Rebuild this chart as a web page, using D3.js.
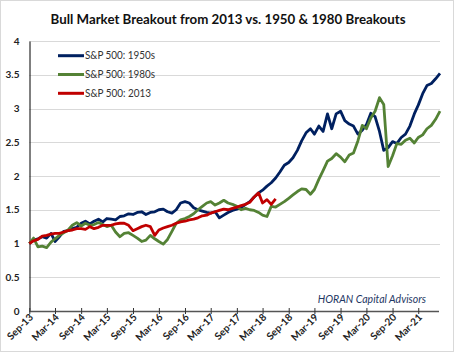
<!DOCTYPE html>
<html><head><meta charset="utf-8">
<script src="https://cdn.jsdelivr.net/npm/d3@7"></script>
<style>
html,body{margin:0;padding:0;background:#fff;}
svg{display:block;}
text{font-family:Lato,"Open Sans",sans-serif;}
</style></head>
<body>
<svg id="chart" width="456" height="353"></svg>
<script>
// ---- data ----
const title = "Bull Market Breakout from 2013 vs. 1950 & 1980 Breakouts";
const seriesNames = ["S&P 500: 1950s", "S&P 500: 1980s", "S&P 500: 2013"];
const startMonth = "2013-09";   // first monthly observation
const tickLabels = ["Sep-13","Mar-14","Sep-14","Mar-15","Sep-15","Mar-16","Sep-16","Mar-17",
  "Sep-17","Mar-18","Sep-18","Mar-19","Sep-19","Mar-20","Sep-20","Mar-21"];
const yTicks = [0,0.5,1,1.5,2,2.5,3,3.5,4];

const sp1950s = [1.00,1.05,1.07,1.10,1.08,1.15,1.03,1.10,1.18,1.19,1.22,1.24,1.30,1.33,1.29,1.33,
  1.36,1.32,1.37,1.36,1.35,1.40,1.41,1.44,1.43,1.46,1.47,1.43,1.46,1.47,1.50,1.51,1.47,1.45,1.50,1.60,
  1.62,1.60,1.53,1.50,1.48,1.46,1.45,1.47,1.38,1.42,1.46,1.49,1.51,1.53,1.58,1.62,1.69,1.75,1.79,1.85,
  1.90,1.97,2.06,2.16,2.20,2.27,2.38,2.52,2.64,2.70,2.62,2.74,2.66,2.92,2.70,2.92,2.96,2.82,2.77,2.74,
  2.62,2.68,2.76,2.93,2.88,2.66,2.38,2.42,2.51,2.48,2.57,2.62,2.74,2.92,3.05,3.22,3.34,3.37,3.44,3.52];
const sp1980s = [1.00,1.08,0.95,0.96,0.94,1.02,1.07,1.12,1.16,1.20,1.27,1.31,1.26,1.30,1.27,1.28,
  1.31,1.28,1.25,1.27,1.17,1.10,1.15,1.16,1.12,1.08,1.03,1.05,1.12,1.07,1.03,0.99,1.06,1.18,1.30,1.35,
  1.37,1.40,1.44,1.50,1.55,1.60,1.62,1.57,1.60,1.64,1.60,1.58,1.55,1.50,1.52,1.50,1.49,1.46,1.42,1.40,
  1.55,1.54,1.58,1.62,1.67,1.72,1.77,1.81,1.80,1.73,1.80,1.95,2.08,2.22,2.26,2.33,2.28,2.21,2.31,2.34,
  2.52,2.75,2.70,2.86,2.96,3.16,3.06,2.14,2.30,2.48,2.47,2.53,2.56,2.49,2.57,2.61,2.70,2.75,2.84,2.96];
const sp2013 = [1.00,1.04,1.06,1.11,1.12,1.14,1.15,1.15,1.17,1.19,1.20,1.22,1.22,1.21,1.25,1.22,
  1.24,1.27,1.27,1.27,1.29,1.30,1.30,1.27,1.19,1.22,1.25,1.27,1.25,1.12,1.20,1.23,1.25,1.27,1.30,1.32,
  1.33,1.35,1.36,1.38,1.41,1.42,1.45,1.47,1.49,1.51,1.50,1.52,1.54,1.56,1.58,1.61,1.69,1.75,1.60,1.65,
  1.58,1.66];
const colors = ["#002060", "#548235", "#c00000"];

// ---- build ----
const svg = d3.select("#chart");
const m0 = d3.timeParse("%Y-%m")(startMonth);
const monthAt = i => d3.timeMonth.offset(m0, i);
const series = [sp1950s, sp1980s, sp2013].map((vals, k) => ({
  name: seriesNames[k], color: colors[k],
  pts: vals.map((v, i) => ({date: monthAt(i), v}))
}));
const endDate = monthAt(sp1950s.length - 1);

const x = d3.scaleTime().domain([m0, endDate]).range([29.3, 440]);
const y = d3.scaleLinear().domain([0, 4]).range([311, 41]);

// border
svg.append("rect").attr("x",0.5).attr("y",0.5).attr("width",453).attr("height",351)
  .attr("fill","#fff").attr("stroke","#d9d9d9");

// title
svg.append("text").attr("x", 228).attr("y", 24).attr("text-anchor","middle")
  .attr("font-size", 14).attr("font-weight","bold").attr("fill","#111")
  .attr("textLength", 355).attr("lengthAdjust", "spacingAndGlyphs").text(title);

// gridlines
svg.append("g").selectAll("line").data(yTicks.filter(d => d > 0)).join("line")
  .attr("x1", x.range()[0]).attr("x2", x.range()[1])
  .attr("y1", d => Math.round(y(d)) + 0.5).attr("y2", d => Math.round(y(d)) + 0.5)
  .attr("stroke", "#d9d9d9").attr("stroke-width", 1);

// y axis
const yAxis = d3.axisLeft(y).tickValues(yTicks).tickSize(0).tickPadding(10)
  .tickFormat(d3.format("~g"));
const gy = svg.append("g").attr("transform", "translate(29.5,0)").call(yAxis);
gy.select(".domain").attr("stroke", "#000").attr("stroke-width", 1);
gy.selectAll("text").attr("font-size", 10).attr("font-weight", "bold")
  .attr("fill", "#222").attr("font-family", "Lato, sans-serif");

// x axis
const parseTick = d3.timeParse("%b-%y");
const tickDates = tickLabels.map(parseTick);
const xAxis = d3.axisBottom(x).tickValues(tickDates).tickSizeInner(3).tickSizeOuter(0)
  .tickFormat((d, i) => tickLabels[i]);
const gx = svg.append("g").attr("transform", "translate(0," + Math.round(y(0)) + ")").call(xAxis);
gx.select(".domain").attr("stroke", "#555").attr("stroke-width", 1.3)
  .attr("d", "M" + x.range()[0] + ",0.5H" + (x.range()[1] - 1));
gx.selectAll(".tick line").attr("y1", -3).attr("y2", 3).attr("stroke", "#333");
gx.selectAll(".tick text")
  .attr("font-size", 10).attr("font-weight", "bold").attr("fill", "#222")
  .attr("font-family", "Lato, sans-serif")
  .attr("text-anchor", "end").attr("dy", null).attr("y", 0)
  .attr("transform", "translate(4,7) rotate(-45)");

// lines
const line = d3.line().x(d => x(d.date)).y(d => y(d.v));
svg.append("g").selectAll("path").data(series).join("path")
  .attr("d", d => line(d.pts)).attr("fill", "none")
  .attr("stroke", d => d.color).attr("stroke-width", 2.8)
  .attr("stroke-linejoin", "round");

// legend
const lg = svg.append("g").selectAll("g").data(series).join("g")
  .attr("transform", (d, i) => "translate(58," + (55.7 + i * 18.8) + ")");
lg.append("line").attr("x1", 0).attr("x2", 26).attr("stroke", d => d.color).attr("stroke-width", 3);
lg.append("text").attr("x", 27).attr("y", 0).attr("dy", "0.35em")
  .attr("font-size", 10.5).attr("fill", "#333")
  .attr("textLength", (d, i) => i === 2 ? 66 : 70).attr("lengthAdjust", "spacingAndGlyphs")
  .text(d => d.name);

// watermark
svg.append("text").attr("x", 426).attr("y", 303).attr("text-anchor", "end")
  .attr("font-size", 10.5).attr("font-style", "italic").attr("fill", "#1f3864")
  .text("HORAN Capital Advisors");
</script>
</body></html>
